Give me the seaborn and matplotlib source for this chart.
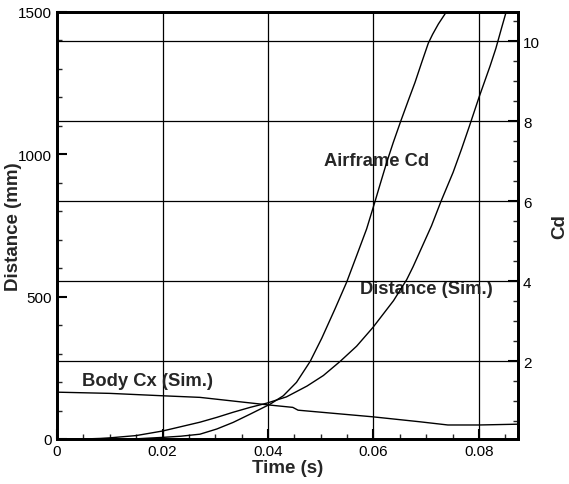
import numpy as np
import pandas as pd
import matplotlib
matplotlib.use("Agg")
import matplotlib.pyplot as plt
import seaborn as sns
from matplotlib.ticker import MultipleLocator

# ---- data ----
dist_t = [0.0, 0.005, 0.0082, 0.01, 0.015, 0.02, 0.0271, 0.0303, 0.0334, 0.0366,
          0.0398, 0.0435, 0.0474, 0.0505, 0.0537, 0.0568, 0.0599, 0.0638, 0.0663,
          0.0675, 0.0710, 0.0728, 0.0751, 0.0767, 0.0782, 0.0800, 0.0821,
          0.0832, 0.0843, 0.0851]
dist_mm = [0, 0, 2, 4, 12, 28, 59, 76, 94, 111,
           126, 148, 186, 223, 273, 326, 392, 486, 560,
           605, 749, 835, 937, 1019, 1100, 1200, 1310,
           1372, 1445, 1497]

airframe_t = [0.0144, 0.02, 0.0235, 0.0271, 0.0303, 0.0334, 0.0366, 0.0404, 0.0429,
              0.0454, 0.0480, 0.0502, 0.0527, 0.0549, 0.0568, 0.0587, 0.0603,
              0.0612, 0.0625, 0.06375, 0.06516, 0.0666, 0.06787, 0.06914,
              0.07039, 0.0712, 0.0723, 0.0737]
airframe_cd = [0.06, 0.10, 0.13, 0.18, 0.31, 0.475, 0.68, 0.93, 1.14,
               1.475, 2.0, 2.58, 3.31, 3.975, 4.64, 5.31, 6.0,
               6.40, 6.97, 7.47, 8.0, 8.52, 8.97, 9.47,
               9.95, 10.17, 10.43, 10.71]

bodycx_t = [0.0, 0.01, 0.02, 0.0271, 0.0398, 0.0447, 0.0457, 0.0598, 0.0688,
            0.0741, 0.08, 0.0874]
bodycx_cd = [1.23, 1.20, 1.14, 1.10, 0.915, 0.85, 0.78, 0.615, 0.49,
             0.41, 0.41, 0.43]

x_ticks = [0, 0.02, 0.04, 0.06, 0.08]
x_ticklabels = ["0", "0.02", "0.04", "0.06", "0.08"]
left_ticks = [0, 500, 1000, 1500]
right_ticks = [2, 4, 6, 8, 10]

labels = {"airframe": "Airframe Cd", "distance": "Distance (Sim.)", "bodycx": "Body Cx (Sim.)"}

# ---- styling ----
sns.set_style("ticks")
plt.rcParams['font.family'] = ['Liberation Sans', 'DejaVu Sans']

fig = plt.figure(figsize=(5.69, 4.85), dpi=100)
ax = fig.add_axes([0.1002, 0.0928, 0.8102, 0.8804])
ax2 = ax.twinx()

df_dist = pd.DataFrame({"t": dist_t, "v": dist_mm})
df_af = pd.DataFrame({"t": airframe_t, "v": airframe_cd})
df_cx = pd.DataFrame({"t": bodycx_t, "v": bodycx_cd})

sns.lineplot(data=df_dist, x="t", y="v", ax=ax, color="black", lw=1.0, legend=False, zorder=5)
sns.lineplot(data=df_af, x="t", y="v", ax=ax2, color="black", lw=1.0, legend=False, zorder=5)
sns.lineplot(data=df_cx, x="t", y="v", ax=ax2, color="black", lw=1.0, legend=False, zorder=5)

ax.set_xlim(0, 0.0874)
ax.set_ylim(0, 1500)
ax2.set_ylim(0.06, 10.73)

ax.set_xticks(x_ticks)
ax.set_xticklabels(x_ticklabels)
ax.xaxis.set_minor_locator(MultipleLocator(0.005))
ax.set_yticks(left_ticks)
ax.yaxis.set_minor_locator(MultipleLocator(100))
ax2.set_yticks(right_ticks)
ax2.yaxis.set_minor_locator(MultipleLocator(0.5))

for a in (ax, ax2):
    a.tick_params(which="major", direction="in", length=7, width=1.5, labelsize=11, colors="black")
    a.tick_params(which="minor", direction="in", length=3.5, width=1.0)
    for s in a.spines.values():
        s.set_linewidth(2.0)
        s.set_color("black")
        s.set_visible(True)
ax.tick_params(axis="y", which="both", right=False)
ax.tick_params(axis="x", which="both", top=False)

ax.grid(axis="x", which="major", color="black", lw=0.9)
ax2.grid(axis="y", which="major", color="black", lw=0.9)
ax.set_axisbelow(True)

ax.set_xlabel("Time (s)", fontsize=13.5, fontweight="bold", labelpad=1)
ax.set_ylabel("Distance (mm)", fontsize=13.5, fontweight="bold")
ax2.set_ylabel("Cd", fontsize=13.5, fontweight="bold")
ax.yaxis.set_label_coords(-0.076, 0.5)
ax2.yaxis.set_label_coords(1.0716, 0.5)

ax.text(0.0506, 977, labels["airframe"], fontsize=13.2, fontweight="bold", va="center", ha="left")
ax.text(0.0574, 527, labels["distance"], fontsize=13.2, fontweight="bold", va="center", ha="left")
ax.text(0.0047, 207, labels["bodycx"], fontsize=13.2, fontweight="bold", va="center", ha="left")

fig.savefig("out.png", dpi=100)
